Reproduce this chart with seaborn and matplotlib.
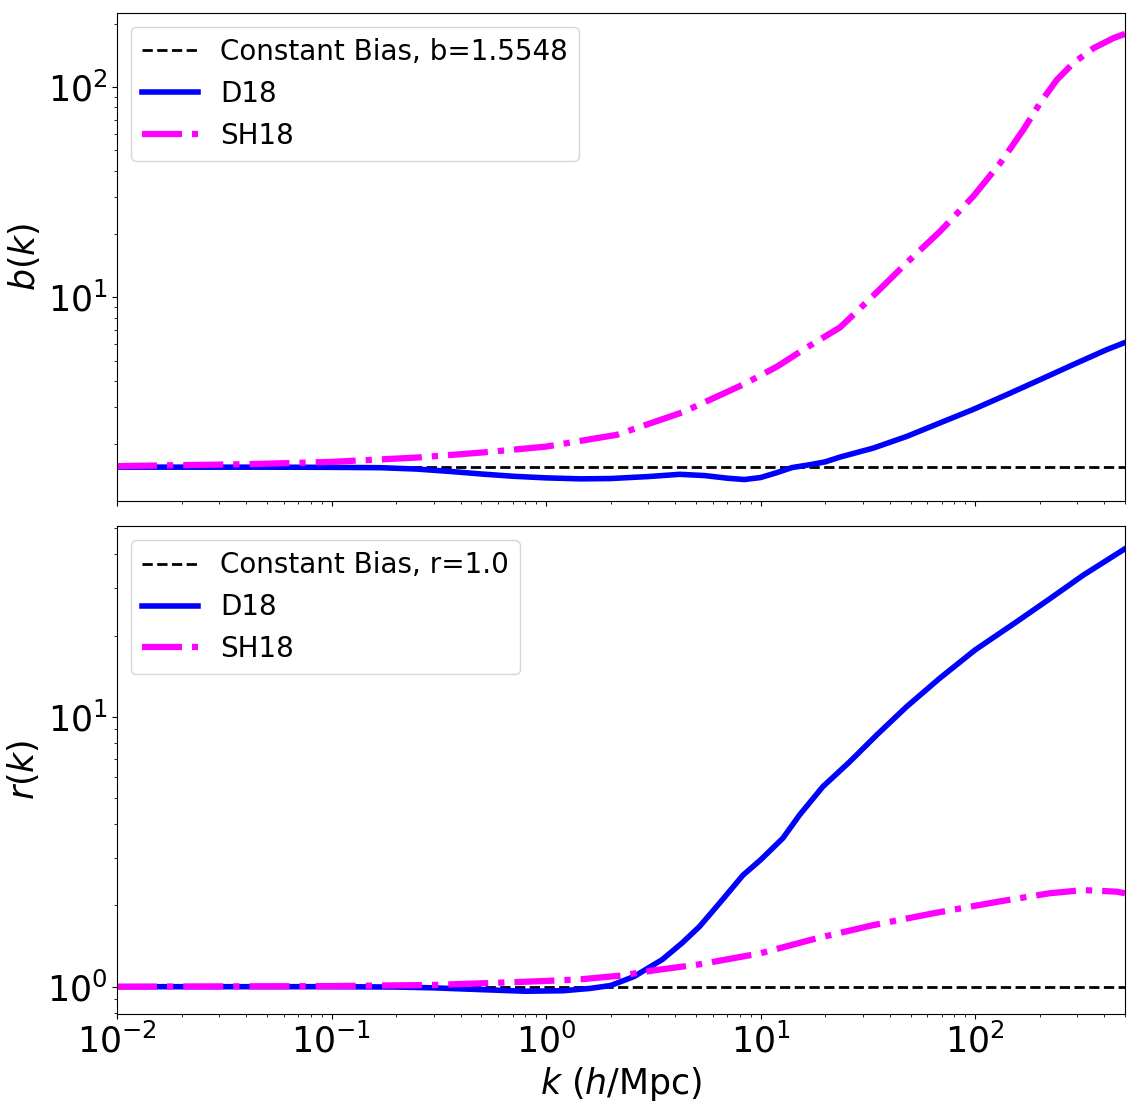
import numpy as np
import pandas as pd
import matplotlib
matplotlib.use("Agg")
import matplotlib.pyplot as plt
import seaborn as sns

# ---------------- data ----------------
b_const = 1.5548
r_const = 1.0

# top panel: b(k)
k_b_d18 = [0.01, 0.05, 0.1, 0.17, 0.25, 0.36, 0.5, 0.7, 1.0, 1.45, 2.0, 3.0, 4.2,
           5.5, 7.0, 8.4, 10, 12, 14, 17, 20, 23.5, 33.6, 48, 68.7, 98, 141, 201,
           287, 411, 500]
b_d18 = [1.558, 1.557, 1.554, 1.548, 1.525, 1.485, 1.445, 1.41, 1.385, 1.37, 1.375,
         1.405, 1.44, 1.42, 1.38, 1.36, 1.39, 1.47, 1.55, 1.60, 1.65, 1.74, 1.92,
         2.18, 2.53, 2.93, 3.45, 4.06, 4.79, 5.64, 6.1]

k_b_sh18 = [0.01, 0.042, 0.1, 0.25, 0.51, 1.0, 2.14, 4.33, 8.4, 12, 16.1, 23.5, 33.6,
            48, 68.7, 98, 131, 168, 201, 240, 287, 356, 442, 500]
b_sh18 = [1.575, 1.61, 1.65, 1.73, 1.83, 1.95, 2.22, 2.84, 3.87, 4.7, 5.7, 7.2, 10.2,
          14.6, 20.6, 30.2, 43.5, 62.7, 84, 108, 130, 153, 171, 179]

# bottom panel: r(k)
k_r_d18 = [0.01, 0.1, 0.2, 0.3, 0.5, 0.8, 1.2, 1.6, 2.0, 2.57, 3.48, 4.3, 5.19,
           6.44, 8.28, 10, 12.7, 15.2, 19.5, 26, 34.7, 47.9, 68.4, 100, 156, 223,
           319, 500]
r_d18 = [1.0, 1.0, 0.997, 0.99, 0.975, 0.962, 0.966, 0.985, 1.01, 1.09, 1.26, 1.45,
         1.67, 2.04, 2.59, 2.95, 3.55, 4.33, 5.51, 6.81, 8.55, 10.9, 13.9, 17.7,
         22.5, 27.4, 33.5, 42.0]

k_r_sh18 = [0.01, 0.1, 0.3, 0.61, 1.0, 1.45, 2.25, 3.2, 5.19, 10, 18.2, 33.4, 63.7,
            130, 223, 319, 456, 500]
r_sh18 = [1.0, 1.005, 1.015, 1.035, 1.05, 1.065, 1.10, 1.15, 1.21, 1.33, 1.51, 1.69,
          1.87, 2.07, 2.22, 2.28, 2.25, 2.22]

xlim = (0.01, 500)

# ---------------- figure ----------------
plt.rcParams['font.family'] = ['DejaVu Sans']
plt.rcParams['mathtext.fontset'] = 'dejavusans'

fig, (ax1, ax2) = plt.subplots(2, 1, figsize=(11.38, 11.11), dpi=100, sharex=True)
fig.subplots_adjust(left=0.1028, right=0.9886, top=0.9883, bottom=0.0873, hspace=0.053)

d18_color = '#0000ff'
sh18_color = '#ff00ff'

# top panel
ax1.axhline(b_const, color='black', linestyle='--', linewidth=2,
            label=f'Constant Bias, b={b_const}')
sns.lineplot(x=k_b_d18, y=b_d18, ax=ax1, color=d18_color, linewidth=4.0,
             label='D18', estimator=None, sort=True)
sns.lineplot(x=k_b_sh18, y=b_sh18, ax=ax1, color=sh18_color, linewidth=4.5,
             linestyle='-.', label='SH18', estimator=None, sort=True)
ax1.set_xscale('log')
ax1.set_yscale('log')
ax1.set_xlim(*xlim)
ax1.set_ylim(1.08, 225)
ax1.set_ylabel(r'$b(k)$', fontsize=25)
ax1.legend(loc='upper left', fontsize=20)

# bottom panel
ax2.axhline(r_const, color='black', linestyle='--', linewidth=2,
            label=f'Constant Bias, r={r_const}')
sns.lineplot(x=k_r_d18, y=r_d18, ax=ax2, color=d18_color, linewidth=4.0,
             label='D18', estimator=None, sort=True)
sns.lineplot(x=k_r_sh18, y=r_sh18, ax=ax2, color=sh18_color, linewidth=4.5,
             linestyle='-.', label='SH18', estimator=None, sort=True)
ax2.set_xscale('log')
ax2.set_yscale('log')
ax2.set_xlim(*xlim)
ax2.set_ylim(0.792, 50.8)
ax2.set_ylabel(r'$r(k)$', fontsize=25)
ax2.set_xlabel(r'$k$ ($h$/Mpc)', fontsize=25)
ax2.legend(loc='upper left', fontsize=20)

for ax in (ax1, ax2):
    ax.tick_params(axis='both', which='major', labelsize=25)

fig.savefig('out.png', dpi=100)
